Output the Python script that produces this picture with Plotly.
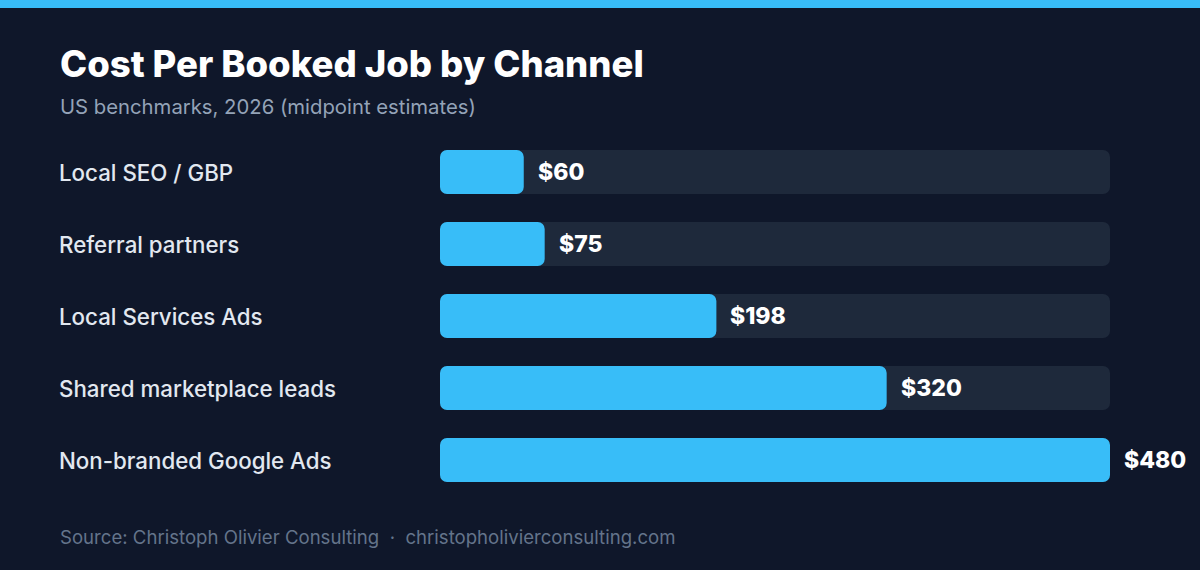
import plotly.graph_objects as go

# Data
channels = [
    "Local SEO / GBP",
    "Referral partners",
    "Local Services Ads",
    "Shared marketplace leads",
    "Non-branded Google Ads",
]
cost = [60, 75, 198, 320, 480]
value_labels = ["$60", "$75", "$198", "$320", "$480"]

BG = "#0f172a"
TRACK = "#1e293b"
BAR = "#38bdf8"
FONT = "Inter"

W, H = 1200, 570
L, R, T, B = 440, 90, 136, 74
pw, ph = W - L - R, H - T - B

def px_x(p):
    return (p - L) / pw

def px_y(p):
    return (H - B - p) / ph

xmax = max(cost)

fig = go.Figure()

# background tracks (explicit base gives rounded corners on both ends)
fig.add_trace(go.Bar(
    x=[xmax] * len(channels), base=[0] * len(channels), y=channels,
    orientation="h", marker=dict(color=TRACK, line=dict(width=0)),
    width=0.61, hoverinfo="skip", showlegend=False,
))

# value bars
fig.add_trace(go.Bar(
    x=cost, base=[0] * len(channels), y=channels, orientation="h",
    marker=dict(color=BAR, line=dict(width=0)),
    width=0.61, hoverinfo="skip", showlegend=False,
))

annotations = []
for ch, v, lab in zip(channels, cost, value_labels):
    annotations.append(dict(
        x=v, y=ch, xref="x", yref="y", text=lab, showarrow=False,
        xanchor="left", yanchor="middle", xshift=12,
        font=dict(family=FONT, size=23, color="#ffffff", weight=800),
    ))
    annotations.append(dict(
        x=px_x(57), y=ch, xref="paper", yref="y", text=ch, showarrow=False,
        xanchor="left", yanchor="middle",
        font=dict(family=FONT, size=22.3, color="#e2e8f0", weight=500),
    ))

annotations += [
    dict(x=px_x(58), y=px_y(64), xref="paper", yref="paper",
         text="Cost Per Booked Job by Channel", showarrow=False,
         xanchor="left", yanchor="middle",
         font=dict(family=FONT, size=36.5, color="#ffffff", weight=800)),
    dict(x=px_x(58), y=px_y(106), xref="paper", yref="paper",
         text="US benchmarks, 2026 (midpoint estimates)", showarrow=False,
         xanchor="left", yanchor="middle",
         font=dict(family=FONT, size=20.3, color="#94a3b8")),
    dict(x=px_x(58), y=px_y(537), xref="paper", yref="paper",
         text="Source: Christoph Olivier Consulting  ·  christopholivierconsulting.com",
         showarrow=False, xanchor="left", yanchor="middle",
         font=dict(family=FONT, size=18.6, color="#64748b")),
]

fig.update_layout(
    width=W, height=H,
    paper_bgcolor=BG, plot_bgcolor=BG,
    margin=dict(l=L, r=R, t=T, b=B),
    barmode="overlay",
    barcornerradius=7,
    xaxis=dict(range=[0, xmax], visible=False, fixedrange=True),
    yaxis=dict(categoryorder="array", categoryarray=channels,
               autorange="reversed", visible=False, fixedrange=True),
    annotations=annotations,
    shapes=[dict(type="rect", xref="paper", yref="paper",
                 x0=px_x(0), x1=px_x(W), y0=px_y(8), y1=px_y(0),
                 fillcolor=BAR, line=dict(width=0), layer="above")],
    showlegend=False,
)

fig.write_html(
    "out.html",
    config={"displayModeBar": False},
    post_script="document.body.style.margin='0';document.body.style.background='#0f172a';",
)
